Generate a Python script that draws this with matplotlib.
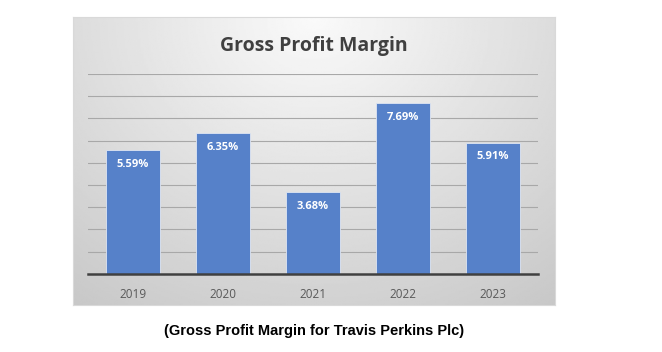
import numpy as np
import matplotlib
matplotlib.use("Agg")
import matplotlib.pyplot as plt

years = ["2019", "2020", "2021", "2022", "2023"]
margins = [5.59, 6.35, 3.68, 7.69, 5.91]
labels = ["5.59%", "6.35%", "3.68%", "7.69%", "5.91%"]

fig = plt.figure(figsize=(6.62, 3.52), dpi=100)
W, H = 662, 352

# gray gradient panel behind the chart
bg = fig.add_axes([73 / W, 1 - 305 / H, (555 - 73) / W, (305 - 17) / H], zorder=0)
yy, xx = np.mgrid[0:1:200j, 0:1:300j]
r = np.sqrt(((xx - 0.5) / 0.75) ** 2 + (yy / 1.1) ** 2)
shade = 0.98 - 0.21 * np.clip(r, 0, 1.2) / 1.2
bg.imshow(shade, cmap="gray", vmin=0, vmax=1, aspect="auto", extent=[0, 1, 0, 1], origin="upper")
bg.set_xticks([])
bg.set_yticks([])
for s in bg.spines.values():
    s.set_color("#d9d9d9")
    s.set_linewidth(0.8)

ax = fig.add_axes([88 / W, 1 - 273.7 / H, 450 / W, 199.7 / H], zorder=1)
ax.patch.set_alpha(0)
x = np.arange(len(years))
bars = ax.bar(x, margins, width=0.6, color="#5681c9", edgecolor="#dfe6f3", linewidth=0.6, zorder=2)
ax.set_xlim(-0.5, len(years) - 0.5)
ax.set_ylim(0, 9)
ax.set_yticks(np.arange(1, 10))
ax.yaxis.grid(True, color="#a8a8a8", linewidth=0.8)
ax.set_axisbelow(True)
ax.tick_params(axis="y", left=False, labelleft=False)
ax.tick_params(axis="x", length=0, pad=10, labelsize=8.5, labelcolor="#595959")
ax.set_xticks(x)
ax.set_xticklabels(years, family="Open Sans")
for s in ["top", "left", "right"]:
    ax.spines[s].set_visible(False)
ax.spines["bottom"].set_color("#404040")
ax.spines["bottom"].set_linewidth(1.8)
ax.spines["bottom"].set_zorder(3)

for b, lab in zip(bars, labels):
    ax.text(b.get_x() + b.get_width() / 2, b.get_height() - 0.4, lab,
            ha="center", va="top", color="white", fontsize=8, fontweight="bold",
            family="Open Sans", zorder=4)

fig.text(314 / W, 1 - 46 / H, "Gross Profit Margin", ha="center", va="center",
         fontsize=14, fontweight="bold", color="#404040", family="Open Sans")

fig.text(314 / W, 1 - 331 / H, "(Gross Profit Margin for Travis Perkins Plc)",
         ha="center", va="center", fontsize=10.5, fontweight="bold", color="black",
         family="Liberation Sans")

fig.savefig("out.png", dpi=100)
